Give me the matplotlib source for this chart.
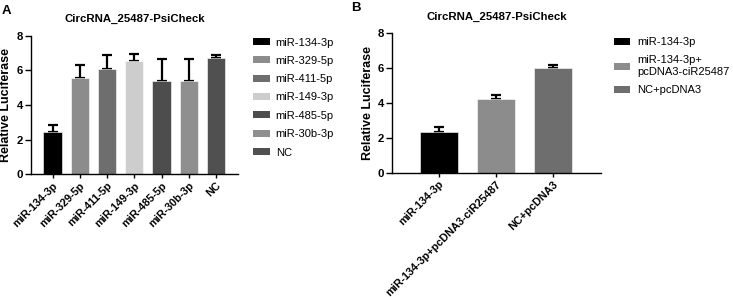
import matplotlib
matplotlib.use("Agg")
import matplotlib.pyplot as plt
from matplotlib.patches import Patch

plt.rcParams['font.family'] = ['Liberation Sans', 'DejaVu Sans']

# Panel A data
cats_a = ["miR-134-3p", "miR-329-5p", "miR-411-5p", "miR-149-3p", "miR-485-5p", "miR-30b-3p", "NC"]
vals_a = [2.44, 5.54, 6.06, 6.53, 5.40, 5.40, 6.73]
errs_a = [0.42, 0.77, 0.82, 0.40, 1.23, 1.23, 0.15]
cols_a = ["#000000", "#8c8c8c", "#6e6e6e", "#cdcdcd", "#4d4d4d", "#8f8f8f", "#505050"]

# Panel B data
cats_b = ["miR-134-3p", "miR-134-3p+pcDNA3-ciR25487", "NC+pcDNA3"]
legend_b = ["miR-134-3p", "miR-134-3p+\npcDNA3-ciR25487", "NC+pcDNA3"]
vals_b = [2.34, 4.23, 6.01]
errs_b = [0.28, 0.25, 0.17]
cols_b = ["#000000", "#8c8c8c", "#6e6e6e"]

title = "CircRNA_25487-PsiCheck"
ylabel = "Relative Luciferase"
yticks = [0, 2, 4, 6, 8]

W, H = 733, 297
fig = plt.figure(figsize=(W/100, H/100), dpi=100)

def fx(px): return px / W
def fy(py): return 1 - py / H

axA = fig.add_axes([fx(30.7), fy(174.3), fx(238 - 30.7), fy(35.7) - fy(174.3)])
axB = fig.add_axes([fx(392), fy(172.7), fx(601 - 392), fy(33.3) - fy(172.7)])

def style(ax, cats, vals, errs, cols, xlim):
    x = list(range(len(cats)))
    ax.bar(x, vals, width=0.67, color=cols, edgecolor='white', linewidth=0.4, zorder=2)
    ax.errorbar(x, vals, yerr=[[0]*len(errs), errs], fmt='none', ecolor='black',
                elinewidth=1.6, capsize=3.4, capthick=1.6, zorder=1)
    ax.set_xlim(*xlim)
    ax.set_ylim(0, 8)
    ax.set_yticks(yticks)
    ax.set_xticks(x)
    ax.set_xticklabels(cats, rotation=45, ha='right', rotation_mode='anchor',
                       fontsize=7.8, fontweight='bold')
    for lab in ax.get_yticklabels():
        lab.set_fontweight('bold')
        lab.set_fontsize(8.2)
    ax.spines['top'].set_visible(False)
    ax.spines['right'].set_visible(False)
    ax.spines['left'].set_linewidth(1.0)
    ax.spines['bottom'].set_linewidth(1.0)
    ax.tick_params(axis='y', length=4, width=1.0, pad=1.5)
    ax.tick_params(axis='x', length=3, width=1.0, pad=1.5)
    ax.set_ylabel(ylabel, fontsize=9, fontweight='bold', labelpad=3)
    ax.set_title(title, fontsize=8.2, fontweight='bold', pad=10)

style(axA, cats_a, vals_a, errs_a, cols_a, (-0.8, 6.8))
style(axB, cats_b, vals_b, errs_b, cols_b, (-0.82, 2.84))

hA = [Patch(facecolor=c, edgecolor='none') for c in cols_a]
legA = fig.legend(hA, cats_a, loc='upper left', bbox_to_anchor=(fx(253), fy(37.5)),
                  frameon=False, fontsize=8, handlelength=1.5, handleheight=0.6,
                  handletextpad=0.55, labelspacing=0.75, borderaxespad=0, borderpad=0)

hB = [Patch(facecolor=c, edgecolor='none') for c in cols_b]
legB = fig.legend(hB, legend_b, loc='upper left', bbox_to_anchor=(fx(614), fy(37)),
                  frameon=False, fontsize=8, handlelength=1.4, handleheight=0.6,
                  handletextpad=0.7, labelspacing=0.7, borderaxespad=0, borderpad=0)
for t in legB.get_texts():
    t.set_linespacing(1.3)

fig.text(fx(6), fy(10.5), "A", fontsize=9.5, fontweight='bold', va='center', ha='center')
fig.text(fx(355.5), fy(8), "B", fontsize=9.5, fontweight='bold', va='center', ha='center')

fig.savefig("out.png", dpi=100)
